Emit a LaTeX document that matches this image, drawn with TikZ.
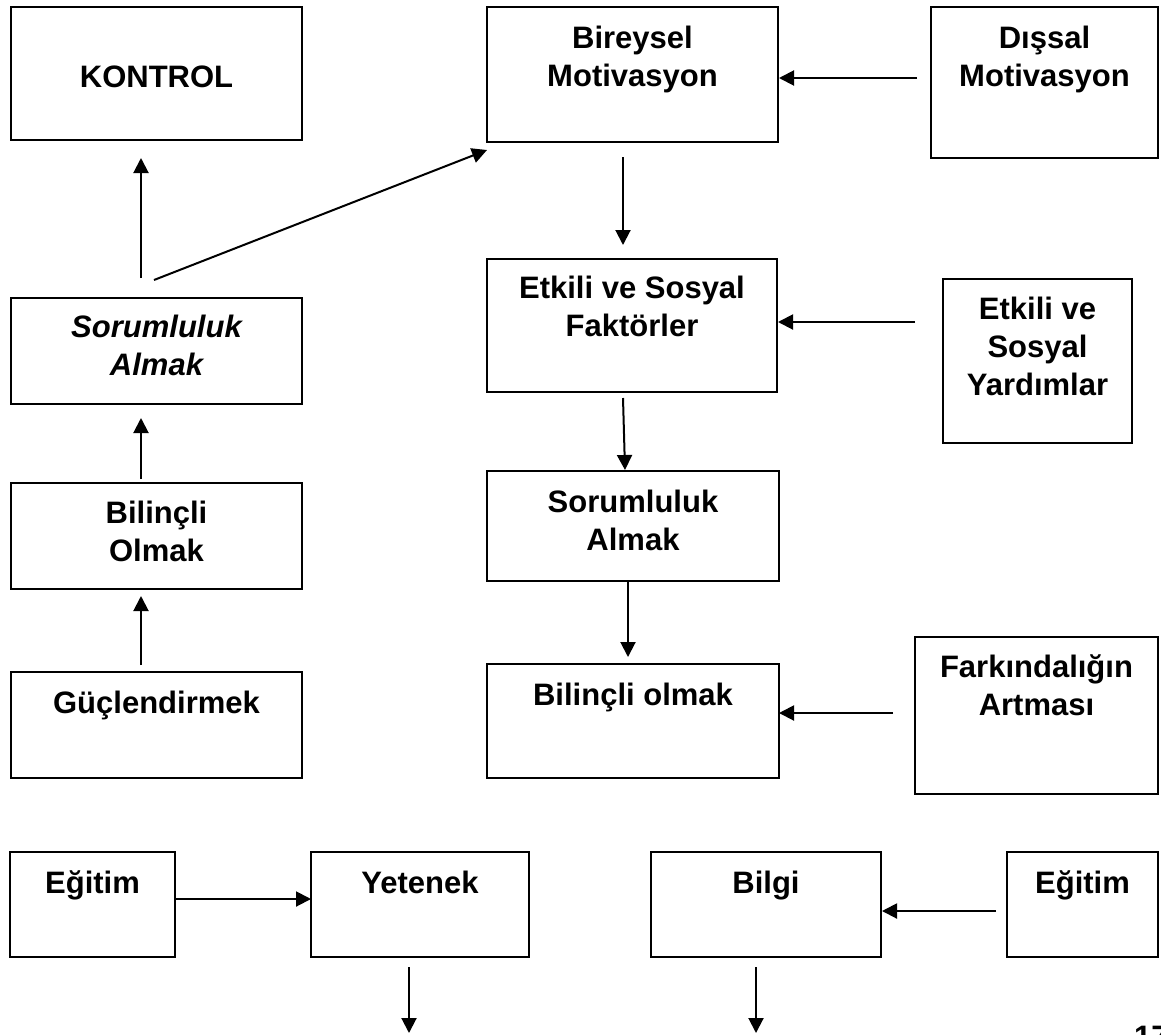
\documentclass[tikz,border=0pt]{standalone}
\usepackage{fontspec}
\setmainfont{Liberation Sans}
\usetikzlibrary{arrows.meta,calc}
% width, height, first baseline from top, text
\newcommand\boxtxt[4]{\vbox to #2pt{\hsize=#1pt\fontsize{31}{38}\selectfont\bfseries\centering\parskip=0pt\vskip\dimexpr#3pt-38pt\relax\prevdepth=0pt #4\par\vfill}}
\begin{document}
\begin{tikzpicture}[x=1pt,y=-1pt,
  box/.style={draw, line width=2pt, inner sep=0pt, outer sep=0pt, anchor=north west},
  arr/.style={line width=2pt, -{Triangle[length=15pt,width=15pt]}}]
\useasboundingbox (0,0) rectangle (1161,1034);
% left column
\node[box] (kon)  at (11,7)   {\boxtxt{291}{133}{80}{KONTROL}};
\node[box] (sorL) at (11,298) {\boxtxt{291}{106}{39}{\itshape Sorumluluk\\Almak}};
\node[box] (bilL) at (11,483) {\boxtxt{291}{106}{40}{Bilinçli\\Olmak}};
\node[box] (guc)  at (11,672) {\boxtxt{291}{106}{41}{Güçlendirmek}};
% middle column
\node[box] (bir)  at (487,7)   {\boxtxt{291}{135}{41}{Bireysel\\Motivasyon}};
\node[box] (etk)  at (487,259) {\boxtxt{290}{133}{39}{Etkili ve Sosyal\\Faktörler}};
\node[box] (sorM) at (487,471) {\boxtxt{292}{110}{41}{Sorumluluk\\Almak}};
\node[box] (bilM) at (487,664) {\boxtxt{292}{114}{41}{Bilinçli olmak}};
% right column
\node[box] (dis)  at (931,7)   {\boxtxt{227}{151}{41}{Dışsal\\Motivasyon}};
\node[box] (yar)  at (943,279) {\boxtxt{189}{164}{40}{Etkili ve\\Sosyal\\Yardımlar}};
\node[box] (fark) at (915,637) {\boxtxt{243}{157}{40}{Farkındalığın\\Artması}};
% bottom row
\node[box] (egL)  at (10,852)   {\boxtxt{165}{105}{41}{Eğitim}};
\node[box] (yet)  at (311,852)  {\boxtxt{218}{105}{41}{Yetenek}};
\node[box] (bilg) at (651,852)  {\boxtxt{230}{105}{41}{Bilgi}};
\node[box] (egR)  at (1007,852) {\boxtxt{151}{105}{41}{Eğitim}};
\coordinate (yetEnd) at (409,1033);
\coordinate (bilgEnd) at (756,1033);
% page number (cut off)
\node[anchor=base west, inner sep=0pt, font=\fontsize{31}{38}\selectfont\bfseries] (pg) at (1134,1047) {17};
% arrows
\draw[arr] ($(sorL.north)+(-15.5,-20)$) -- ($(kon.south)+(-15.5,18)$);
\draw[arr] ($(sorL.north)+(-2.5,-18)$) -- ($(bir.south west)+(0,8)$);
\draw[arr] ($(dis.west)+(-14,-4.5)$) -- ($(bir.east)+(1,3.5)$);
\draw[arr] ($(bir.south)+(-9.5,15)$) -- ($(etk.north)+(-9,-14)$);
\draw[arr] ($(yar.west)+(-28,-39)$) -- ($(etk.east)+(1,-3.5)$);
\draw[arr] ($(etk.south)+(-9,6)$) -- ($(sorM.north)+(-8,-1)$);
\draw[arr] ($(sorM.south)+(-5,0)$) -- ($(bilM.north)+(-5,-7)$);
\draw[arr] ($(fark.west)+(-22,-2.5)$) -- ($(bilM.east)+(0,-8)$);
\draw[arr] ($(bilL.north)+(-15.5,-4)$) -- ($(sorL.south)+(-15.5,14)$);
\draw[arr] ($(guc.north)+(-15.5,-7)$) -- ($(bilL.south)+(-15.5,7)$);
\draw[arr] ($(egL.east)+(1,-5.5)$) -- ($(yet.west)+(0,-5.5)$);
\draw[arr] ($(egR.west)+(-11,6.5)$) -- ($(bilg.east)+(1,6.5)$);
\draw[arr] ($(yet.south)+(-11,10)$) -- (yetEnd);
\draw[arr] ($(bilg.south)+(-10,10)$) -- (bilgEnd);
\end{tikzpicture}
\end{document}
